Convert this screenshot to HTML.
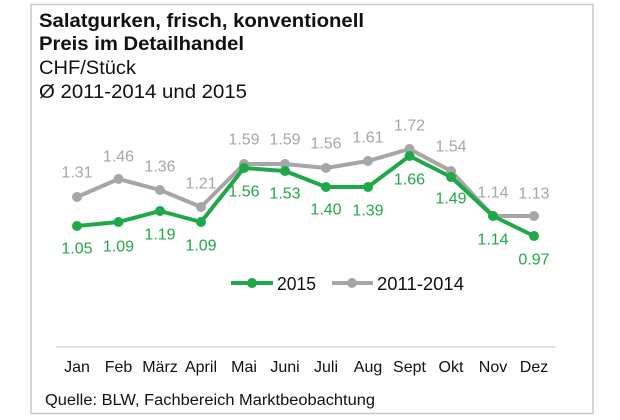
<!DOCTYPE html>
<html><head><meta charset="utf-8"><style>
html,body{margin:0;padding:0;background:#fff;}
svg{display:block;font-family:"Liberation Sans",Arial,sans-serif;}
</style></head><body>
<svg width="620" height="420" viewBox="0 0 620 420" xmlns="http://www.w3.org/2000/svg">
<rect x="31" y="4.5" width="562" height="409" fill="#fff" stroke="#c8c8c8" stroke-width="1.5"/>
<text x="39" y="27" font-size="19" font-weight="bold" fill="#111" textLength="325" lengthAdjust="spacingAndGlyphs">Salatgurken, frisch, konventionell</text>
<text x="39" y="50" font-size="19" font-weight="bold" fill="#111" textLength="205" lengthAdjust="spacingAndGlyphs">Preis im Detailhandel</text>
<text x="39" y="74" font-size="19" fill="#111" textLength="97" lengthAdjust="spacingAndGlyphs">CHF/Stück</text>
<text x="39" y="98" font-size="19" fill="#111" textLength="208" lengthAdjust="spacingAndGlyphs">Ø 2011-2014 und 2015</text>
<line x1="56" y1="347" x2="556" y2="347" stroke="#d9d9d9" stroke-width="1.5"/>
<g fill="none" stroke-width="4" stroke-linejoin="round">
<polyline stroke="#a6a6a6" points="77,197 118.5,179 160,190 201,207 244,164 285,164 326,168 368,161 409.5,149 451,171 493,216 534,216"/>
<polyline stroke="#1fa847" points="77,226 118.5,222 160,211 201,222 244,168 285,171 326,187 368,187 409.5,156 451,177 493,216 534,236"/>
</g>
<g fill="#a6a6a6">
<circle cx="77" cy="197" r="5"/><circle cx="118.5" cy="179" r="5"/><circle cx="160" cy="190" r="5"/><circle cx="201" cy="207" r="5"/><circle cx="244" cy="164" r="5"/><circle cx="285" cy="164" r="5"/><circle cx="326" cy="168" r="5"/><circle cx="368" cy="161" r="5"/><circle cx="409.5" cy="149" r="5"/><circle cx="451" cy="171" r="5"/><circle cx="493" cy="216" r="5"/><circle cx="534" cy="216" r="5"/>
</g>
<g fill="#1fa847">
<circle cx="77" cy="226" r="5"/><circle cx="118.5" cy="222" r="5"/><circle cx="160" cy="211" r="5"/><circle cx="201" cy="222" r="5"/><circle cx="244" cy="168" r="5"/><circle cx="285" cy="171" r="5"/><circle cx="326" cy="187" r="5"/><circle cx="368" cy="187" r="5"/><circle cx="409.5" cy="156" r="5"/><circle cx="451" cy="177" r="5"/><circle cx="493" cy="216" r="5"/><circle cx="534" cy="236" r="5"/>
</g>
<g font-size="16" fill="#a6a6a6" text-anchor="middle" dominant-baseline="central">
<text x="77" y="173">1.31</text><text x="118.5" y="157">1.46</text><text x="160" y="167">1.36</text><text x="201" y="184">1.21</text><text x="244" y="140">1.59</text><text x="285" y="140">1.59</text><text x="326" y="144">1.56</text><text x="368" y="138">1.61</text><text x="409.5" y="126">1.72</text><text x="451" y="147">1.54</text><text x="493" y="193">1.14</text><text x="534" y="194">1.13</text>
</g>
<g font-size="16" fill="#1fa847" text-anchor="middle" dominant-baseline="central">
<text x="77" y="249">1.05</text><text x="118.5" y="247">1.09</text><text x="160" y="235">1.19</text><text x="201" y="246">1.09</text><text x="244" y="192">1.56</text><text x="285" y="194">1.53</text><text x="326" y="210">1.40</text><text x="368" y="211">1.39</text><text x="409.5" y="180">1.66</text><text x="451" y="199">1.49</text><text x="493" y="240">1.14</text><text x="534" y="260">0.97</text>
</g>
<line x1="231" y1="283" x2="273" y2="283" stroke="#1fa847" stroke-width="4"/><circle cx="252" cy="283" r="5" fill="#1fa847"/>
<text x="277" y="290" font-size="18.5" fill="#111" textLength="39" lengthAdjust="spacingAndGlyphs">2015</text>
<line x1="332" y1="283" x2="373" y2="283" stroke="#a6a6a6" stroke-width="4"/><circle cx="352" cy="283" r="5" fill="#a6a6a6"/>
<text x="377" y="290" font-size="18.5" fill="#111" textLength="87" lengthAdjust="spacingAndGlyphs">2011-2014</text>
<g font-size="16" fill="#111" text-anchor="middle">
<text x="77" y="372">Jan</text><text x="118.5" y="372">Feb</text><text x="160" y="372">März</text><text x="201" y="372">April</text><text x="244" y="372">Mai</text><text x="285" y="372">Juni</text><text x="326" y="372">Juli</text><text x="368" y="372">Aug</text><text x="409.5" y="372">Sept</text><text x="451" y="372">Okt</text><text x="493" y="372">Nov</text><text x="534" y="372">Dez</text>
</g>
<text x="45" y="405" font-size="15.5" fill="#111" textLength="330" lengthAdjust="spacingAndGlyphs">Quelle: BLW, Fachbereich Marktbeobachtung</text>
</svg>
</body></html>
